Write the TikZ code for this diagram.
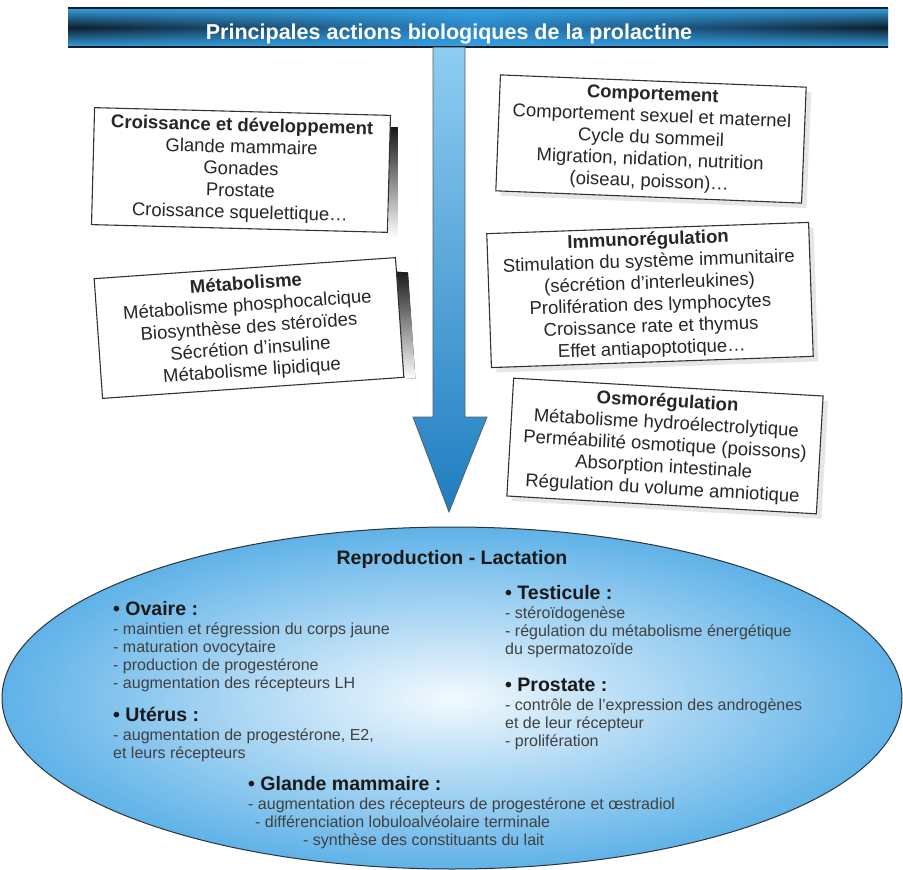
\documentclass[tikz,border=0pt]{standalone}
\usepackage{fontspec}
\setmainfont{Liberation Sans}
\usetikzlibrary{shapes.geometric,shadows,fadings,calc,positioning}
\pgfdeclarelayer{background}
\pgfsetlayers{background,main}
\definecolor{barDark}{HTML}{0E1E2C}
\definecolor{barMid}{HTML}{2C86C8}
\definecolor{barBlue}{HTML}{36A2E4}
\definecolor{flecheHaut}{HTML}{8FCDF2}
\definecolor{flecheBas}{HTML}{1F7DC0}
\definecolor{ovaleCentre}{HTML}{F2F9FE}
\definecolor{ovaleBord}{HTML}{5FB2E8}
\definecolor{trait}{HTML}{2E3338}
\tikzfading[name=bandes, top color=transparent!0, bottom color=transparent!0, middle color=transparent!100]
\tikzset{
  cadre/.style={draw=trait, line width=1.1pt, fill=white, align=center, inner sep=2pt,
    text=black!85, font=\fontsize{18.5}{21.8}\selectfont},
  ombre/.style={drop shadow={opacity=0.2, shadow xshift=5pt, shadow yshift=-5pt}},
  rubrique/.style={font=\fontsize{19.5}{21}\selectfont\bfseries, text=black!90},
  liste/.style={align=left, anchor=north west, inner sep=0pt,
    font=\fontsize{16}{18}\selectfont, text=black!75},
}
\newcommand{\tete}[1]{{\fontsize{19.5}{21}\selectfont\bfseries\color{black!90}#1}}

\begin{document}
\begin{tikzpicture}[x=1pt,y=-1pt]
  \useasboundingbox (0,0) rectangle (903,870);

  \node[ellipse, draw=trait, line width=1pt, inner color=ovaleCentre, outer color=ovaleBord,
    minimum width=900pt, minimum height=342pt] (repro) at (452,698) {};

  \node[minimum width=820pt, minimum height=39pt, inner sep=0pt,
    left color=barDark, right color=barDark, middle color=barMid] (bandeau) at (478,27.5) {};
  \fill[barBlue, path fading=bandes] (bandeau.north west) rectangle (bandeau.south east);
  \draw[barDark, line width=1.5pt] (bandeau.north west) -- (bandeau.north east)
    (bandeau.south west) -- (bandeau.south east);
  \node[font=\fontsize{21.5}{24}\selectfont\bfseries, text=white, anchor=base] (titre) at (449,39)
    {Principales actions biologiques de la prolactine};

  \coordinate (pointe) at (449,512);
  \draw[trait!80, line width=0.8pt, top color=flecheHaut, bottom color=flecheBas]
    ($(pointe |- bandeau.south)+(-16,0)$) -- ($(pointe)+(-16,-95)$) -- ($(pointe)+(-36,-95)$)
    -- (pointe) -- ($(pointe)+(38,-95)$) -- ($(pointe)+(16,-95)$)
    -- ($(pointe |- bandeau.south)+(16,0)$) -- cycle;

  \node[cadre, minimum width=296pt, minimum height=117pt, rotate=-1.5] (croissance) at (241,170)
    {\textbf{Croissance et développement}\\ Glande mammaire\\ Gonades\\ Prostate\\ Croissance squelettique…};
  \node[cadre, ombre, minimum width=306pt, minimum height=116pt, rotate=-2.3] (comportement) at (651,139)
    {\textbf{Comportement}\\ Comportement sexuel et maternel\\ Cycle du sommeil\\
     Migration, nidation, nutrition\\ (oiseau, poisson)…};
  \node[cadre, minimum width=302pt, minimum height=120pt, rotate=4] (metabolisme) at (249,328)
    {\textbf{Métabolisme}\\ Métabolisme phosphocalcique\\ Biosynthèse des stéroïdes\\
     Sécrétion d'insuline\\ Métabolisme lipidique};
  \node[cadre, ombre, minimum width=322pt, minimum height=134pt, rotate=2] (immuno) at (650,295)
    {\textbf{Immunorégulation}\\ Stimulation du système immunitaire\\ (sécrétion d'interleukines)\\
     Prolifération des lymphocytes\\ Croissance rate et thymus\\ Effet antiapoptotique…};
  \node[cadre, ombre, minimum width=310pt, minimum height=118pt, rotate=-3.3] (osmo) at (665,446)
    {\textbf{Osmorégulation}\\ Métabolisme hydroélectrolytique\\ Perméabilité osmotique (poissons)\\
     Absorption intestinale\\ Régulation du volume amniotique};

  \begin{pgfonlayer}{background}
    \fill[top color=black!90, bottom color=white]
      ($(croissance.north east)+(-2,13)$) rectangle ($(croissance.south east)+(10,4)$);
    \coordinate (m1) at ($(metabolisme.north east)!0.12!(metabolisme.south east)$);
    \fill[top color=black!90, bottom color=white]
      ($(m1)+(-2,0)$) -- ($(m1)+(11,1)$) -- ($(metabolisme.south east)+(11,1)$)
      -- (metabolisme.south east) -- cycle;
  \end{pgfonlayer}

  \node[rubrique, anchor=base] (reproTitre) at (452,564) {Reproduction - Lactation};
  \node[liste] (ovaire) at (113,601)
    {\tete{• Ovaire :}\\[1pt] - maintien et régression du corps jaune\\ - maturation ovocytaire\\
     - production de progestérone\\ - augmentation des récepteurs LH};
  \node[liste] (uterus) at (113,707)
    {\tete{• Utérus :}\\[1pt] - augmentation de progestérone, E2,\\ et leurs récepteurs};
  \node[liste] (testicule) at (505,585)
    {\tete{• Testicule :}\\[1pt] - stéroïdogenèse\\ - régulation du métabolisme énergétique\\ du spermatozoïde};
  \node[liste] (prostate) at (505,678)
    {\tete{• Prostate :}\\[1pt] - contrôle de l'expression des androgènes\\ et de leur récepteur\\ - prolifération};
  \node[liste] (glande) at (248,776)
    {\tete{• Glande mammaire :}\\[1pt] - augmentation des récepteurs de progestérone et œstradiol\\
     \hspace*{7pt}- différenciation lobuloalvéolaire terminale\\
     \hspace*{55pt}- synthèse des constituants du lait};
\end{tikzpicture}
\end{document}
